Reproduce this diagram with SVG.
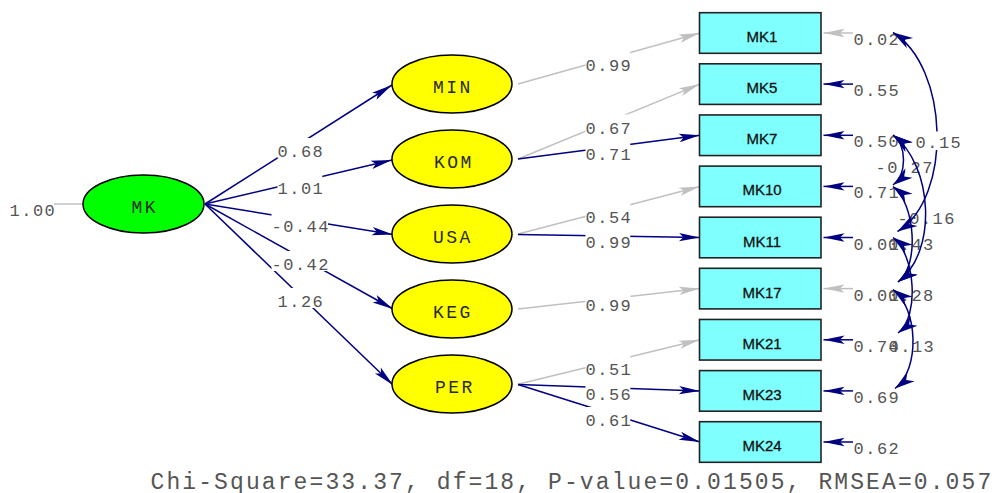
<svg xmlns="http://www.w3.org/2000/svg" width="1002" height="493" viewBox="0 0 1002 493">
  <style>
    .exo { fill: #00ff00; stroke: #000; stroke-width: 1.5 }
    .lat { fill: #ffff00; stroke: #000; stroke-width: 1.5 }
    .obs { fill: #80ffff; stroke: #222; stroke-width: 1.6 }
    .nm { font-family: "Liberation Mono", "Courier New", monospace; font-size: 18px; letter-spacing: 2.5px; fill: #2a2a2a }
    .bx { font-family: "Liberation Sans", Arial, sans-serif; font-size: 15px; fill: #111; stroke: #111; stroke-width: 0.3; text-anchor: middle }
    .num { font-family: "Liberation Mono", "Courier New", monospace; font-size: 17px; letter-spacing: 1.5px; fill: #555 }
    .fit { font-family: "Liberation Mono", "Courier New", monospace; font-size: 23px; letter-spacing: 2.1px; fill: #555 }
    .free { stroke: #000080; stroke-width: 1.5; fill: none; marker-end: url(#ahN) }
    .fix { stroke: #c0c0c0; stroke-width: 1.5; fill: none; marker-end: url(#ahG) }
    .var { stroke: #c0c0c0; stroke-width: 1.5; fill: none }
    .cov { stroke: #000080; stroke-width: 1.5; fill: none; marker-start: url(#ahC); marker-end: url(#ahC) }
    .bg { fill: #fff }
  </style>
  <defs>
    <marker id="ahN" markerUnits="userSpaceOnUse" markerWidth="30" markerHeight="30" orient="auto" overflow="visible">
      <path d="M0,0 L-21,-4.2 L-16.5,0 L-21,4.2 Z" fill="#000080"/>
    </marker>
    <marker id="ahG" markerUnits="userSpaceOnUse" markerWidth="30" markerHeight="30" orient="auto" overflow="visible">
      <path d="M0,0 L-21,-4.2 L-16.5,0 L-21,4.2 Z" fill="#c0c0c0"/>
    </marker>
    <marker id="ahC" markerUnits="userSpaceOnUse" markerWidth="30" markerHeight="30" orient="auto-start-reverse" overflow="visible">
      <path d="M0,0 L-20,-6 L-14,0 L-20,6 Z" fill="#000080"/>
    </marker>
    <mask id="gap015" maskUnits="userSpaceOnUse" x="0" y="0" width="1002" height="493">
      <rect width="1002" height="493" fill="#fff"/>
      <rect x="914" y="131.5" width="48" height="18.5" fill="#000"/>
    </mask>
  </defs>

  <!-- paths, loadings and error terms -->
  <g id="connectors">
    <path class="var" d="M54,204 L83,204"/>
    <path class="free" d="M205,204 L392,85"/>
    <path class="free" d="M205,204 L392,160"/>
    <path class="free" d="M205,204 L393,234.5"/>
    <path class="free" d="M205,204 L393,309"/>
    <path class="free" d="M205,204 L393,385"/>

    <path class="fix" d="M518,84 L700,33"/>
    <path class="fix" d="M518,159 L700,84.1"/>
    <path class="free" d="M518,159 L700,135.3"/>
    <path class="fix" d="M518,234 L700,186.4"/>
    <path class="free" d="M518,234.5 L700,237.5"/>
    <path class="fix" d="M518,309 L700,288.6"/>
    <path class="fix" d="M518,384.3 L700,339.8"/>
    <path class="free" d="M518,384.5 L700,390.9"/>
    <path class="free" d="M518,384.5 L700,442"/>

    <path class="fix" d="M853,33 L823.5,33"/>
    <path class="free" d="M853,84.1 L823.5,84.1"/>
    <path class="free" d="M853,135.3 L823.5,135.3"/>
    <path class="free" d="M853,186.4 L823.5,186.4"/>
    <path class="free" d="M853,237.5 L823.5,237.5"/>
    <path class="fix" d="M853,288.6 L823.5,288.6"/>
    <path class="free" d="M853,339.8 L823.5,339.8"/>
    <path class="free" d="M853,390.9 L823.5,390.9"/>
    <path class="free" d="M853,442 L823.5,442"/>
  </g>

  <!-- latent variables -->
  <g id="MK">
    <ellipse class="exo" cx="143.5" cy="204" rx="60.5" ry="29"/>
    <text class="nm" x="131.5" y="213.3">MK</text>
  </g>
  <g id="MIN">
    <ellipse class="lat" cx="452" cy="84" rx="60" ry="29"/>
    <text class="nm" x="433" y="93.3">MIN</text>
  </g>
  <g id="KOM">
    <ellipse class="lat" cx="452" cy="159" rx="60" ry="29"/>
    <text class="nm" x="434" y="168.3">KOM</text>
  </g>
  <g id="USA">
    <ellipse class="lat" cx="452" cy="234" rx="60" ry="29"/>
    <text class="nm" x="433" y="243.3">USA</text>
  </g>
  <g id="KEG">
    <ellipse class="lat" cx="452" cy="309" rx="60" ry="29"/>
    <text class="nm" x="433" y="318.3">KEG</text>
  </g>
  <g id="PER">
    <ellipse class="lat" cx="452" cy="384" rx="60" ry="29"/>
    <text class="nm" x="435" y="393.3">PER</text>
  </g>

  <!-- observed indicators -->
  <g id="MK1"><rect class="obs" x="699.5" y="12.7" width="121.5" height="40.6"/><text class="bx" x="762" y="42">MK1</text></g>
  <g id="MK5"><rect class="obs" x="699.5" y="63.8" width="121.5" height="40.6"/><text class="bx" x="762" y="93.1">MK5</text></g>
  <g id="MK7"><rect class="obs" x="699.5" y="114.95" width="121.5" height="40.6"/><text class="bx" x="762" y="144.3">MK7</text></g>
  <g id="MK10"><rect class="obs" x="699.5" y="166.1" width="121.5" height="40.6"/><text class="bx" x="762" y="195.4">MK10</text></g>
  <g id="MK11"><rect class="obs" x="699.5" y="217.2" width="121.5" height="40.6"/><text class="bx" x="762" y="246.5">MK11</text></g>
  <g id="MK17"><rect class="obs" x="699.5" y="268.3" width="121.5" height="40.6"/><text class="bx" x="762" y="297.6">MK17</text></g>
  <g id="MK21"><rect class="obs" x="699.5" y="319.45" width="121.5" height="40.6"/><text class="bx" x="762" y="348.8">MK21</text></g>
  <g id="MK23"><rect class="obs" x="699.5" y="370.6" width="121.5" height="40.6"/><text class="bx" x="762" y="399.9">MK23</text></g>
  <g id="MK24"><rect class="obs" x="699.5" y="421.7" width="121.5" height="40.6"/><text class="bx" x="762" y="451">MK24</text></g>

  <!-- coefficient labels; the white plate cuts the path under each value -->
  <g id="loading-labels">
    <text class="num" x="9.5" y="216">1.00</text>

    <rect class="bg" x="277.5" y="138" width="44.8" height="20"/><text class="num" x="277.5" y="157">0.68</text>
    <rect class="bg" x="277.5" y="174.5" width="44.8" height="20"/><text class="num" x="277.5" y="193.5">1.01</text>
    <rect class="bg" x="271.5" y="213" width="56.5" height="20"/><text class="num" x="271.5" y="232">-0.44</text>
    <rect class="bg" x="271.5" y="251" width="56.5" height="20"/><text class="num" x="271.5" y="270">-0.42</text>
    <rect class="bg" x="277.5" y="288" width="44.8" height="20"/><text class="num" x="277.5" y="307">1.26</text>

    <rect class="bg" x="585.5" y="52" width="44.8" height="20"/><text class="num" x="585.5" y="71">0.99</text>
    <rect class="bg" x="585.5" y="114.5" width="44.8" height="20"/><text class="num" x="585.5" y="133.5">0.67</text>
    <rect class="bg" x="585.5" y="140.5" width="44.8" height="20"/><text class="num" x="585.5" y="159.5">0.71</text>
    <rect class="bg" x="585.5" y="203.5" width="44.8" height="20"/><text class="num" x="585.5" y="222.5">0.54</text>
    <rect class="bg" x="585.5" y="228.5" width="44.8" height="20"/><text class="num" x="585.5" y="247.5">0.99</text>
    <rect class="bg" x="585.5" y="292" width="44.8" height="20"/><text class="num" x="585.5" y="311">0.99</text>
    <rect class="bg" x="585.5" y="355.5" width="44.8" height="20"/><text class="num" x="585.5" y="374.5">0.51</text>
    <rect class="bg" x="585.5" y="380.5" width="44.8" height="20"/><text class="num" x="585.5" y="399.5">0.56</text>
    <rect class="bg" x="585.5" y="407" width="44.8" height="20"/><text class="num" x="585.5" y="426">0.61</text>
  </g>

  <!-- error variances -->
  <g id="error-labels">
    <text class="num" x="853.5" y="45">0.02</text>
    <text class="num" x="853.5" y="96.1">0.55</text>
    <text class="num" x="853.5" y="147.3">0.50</text>
    <text class="num" x="853.5" y="198.4">0.71</text>
    <text class="num" x="853.5" y="249.5">0.01</text>
    <text class="num" x="853.5" y="300.6">0.01</text>
    <text class="num" x="853.5" y="351.8">0.74</text>
    <text class="num" x="853.5" y="402.9">0.69</text>
    <text class="num" x="853.5" y="454">0.62</text>
  </g>

  <!-- error covariances -->
  <g id="covariance-labels">
    <text class="num" x="915.5" y="147.5">0.15</text>
    <text class="num" x="875.5" y="173">-0.27</text>
    <text class="num" x="897.5" y="223.5">-0.16</text>
    <text class="num" x="888" y="249.5">0.43</text>
    <text class="num" x="888" y="300.5">0.28</text>
    <text class="num" x="888.5" y="351.5">0.13</text>
  </g>
  <g id="covariances">
    <path class="cov" mask="url(#gap015)" d="M893,32.5 C948.7,67 953.2,197 897.5,231.5"/>
    <path class="cov" d="M893,135 C907,145.5 907,174.5 893,185"/>
    <path class="cov" d="M893,135 C933,165 938,252 898,282"/>
    <path class="cov" d="M893,186.5 C915,203 920,265.5 898,282"/>
    <path class="cov" d="M893,237.5 C915,254 920,316.5 898,333"/>
    <path class="cov" d="M893,289.5 C918.3,308.5 920.3,369.5 895,388.5"/>
  </g>

  <text class="fit" x="150.5" y="488.5">Chi-Square=33.37, df=18, P-value=0.01505, RMSEA=0.057</text>
</svg>
